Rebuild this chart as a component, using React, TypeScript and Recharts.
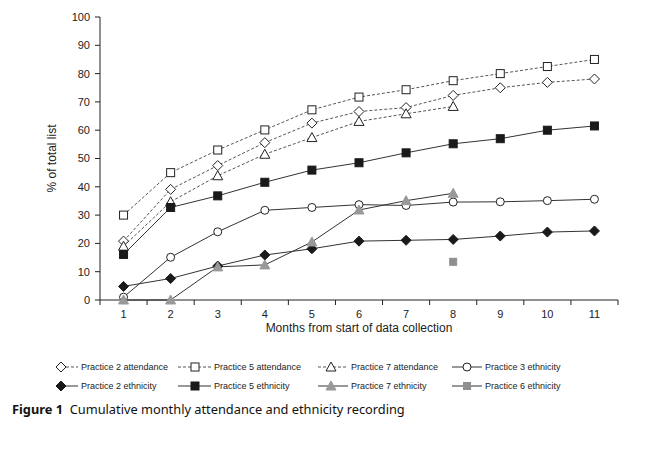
import React from 'react';
import { LineChart, Line, XAxis, YAxis } from 'recharts';

const MONTHS = [1, 2, 3, 4, 5, 6, 7, 8, 9, 10, 11];
const Y_TICKS = [0, 10, 20, 30, 40, 50, 60, 70, 80, 90, 100];

const P2_ATTENDANCE = [20.8, 39.1, 47.5, 55.6, 62.5, 66.6, 68.0, 72.3, 75.0, 76.9, 78.1];
const P5_ATTENDANCE = [30.0, 45.0, 53.0, 60.1, 67.2, 71.7, 74.3, 77.5, 80.0, 82.5, 85.0];
const P7_ATTENDANCE = [19.0, 34.7, 43.9, 51.5, 57.4, 63.1, 65.8, 68.4, null, null, null];
const P3_ETHNICITY = [1.0, 15.1, 24.1, 31.7, 32.7, 33.7, 33.4, 34.6, 34.7, 35.1, 35.6];
const P2_ETHNICITY = [4.8, 7.6, 12.0, 15.9, 18.1, 20.8, 21.1, 21.4, 22.6, 24.0, 24.4];
const P5_ETHNICITY = [16.1, 32.7, 36.8, 41.6, 45.9, 48.5, 52.0, 55.2, 57.0, 60.0, 61.5];
const P7_ETHNICITY = [0, 0, 11.7, 12.4, 20.5, 31.8, 35.1, 37.7, null, null, null];
const P6_ETHNICITY = [null, null, null, null, null, null, null, 13.5, null, null, null];

const SERIES = [
  { key: 'p2att', name: 'Practice 2 attendance', values: P2_ATTENDANCE, shape: 'diamond', dashed: true, fill: '#fff', stroke: '#222', line: '#555', size: 5 },
  { key: 'p5att', name: 'Practice 5 attendance', values: P5_ATTENDANCE, shape: 'square', dashed: true, fill: '#fff', stroke: '#222', line: '#555', size: 4 },
  { key: 'p7att', name: 'Practice 7 attendance', values: P7_ATTENDANCE, shape: 'triangle', dashed: true, fill: '#fff', stroke: '#222', line: '#555', size: 5 },
  { key: 'p3eth', name: 'Practice 3 ethnicity', values: P3_ETHNICITY, shape: 'circle', dashed: false, fill: '#fff', stroke: '#222', line: '#333', size: 4 },
  { key: 'p2eth', name: 'Practice 2 ethnicity', values: P2_ETHNICITY, shape: 'diamond', dashed: false, fill: '#1a1a1a', stroke: '#1a1a1a', line: '#333', size: 5 },
  { key: 'p5eth', name: 'Practice 5 ethnicity', values: P5_ETHNICITY, shape: 'square', dashed: false, fill: '#1a1a1a', stroke: '#1a1a1a', line: '#333', size: 4 },
  { key: 'p7eth', name: 'Practice 7 ethnicity', values: P7_ETHNICITY, shape: 'triangle', dashed: false, fill: '#999', stroke: '#999', line: '#333', size: 5 },
  { key: 'p6eth', name: 'Practice 6 ethnicity', values: P6_ETHNICITY, shape: 'square', dashed: false, fill: '#8f8f8f', stroke: '#8f8f8f', line: '#333', size: 3.5 },
];

const DATA = MONTHS.map((m, i) => {
  const row: any = { month: m };
  SERIES.forEach((s) => { row[s.key] = s.values[i]; });
  return row;
});

const X_TICKS: number[] = [];
MONTHS.forEach((m) => { X_TICKS.push(m - 0.5); X_TICKS.push(m); });
X_TICKS.push(MONTHS[MONTHS.length - 1] + 0.5);

const FONT = 'Liberation Sans, Arial, sans-serif';

function Marker({ shape, cx, cy, s, fill, stroke }: any) {
  if (shape === 'diamond') {
    return <path d={`M${cx},${cy - s}L${cx + s},${cy}L${cx},${cy + s}L${cx - s},${cy}Z`} fill={fill} stroke={stroke} strokeWidth={1} />;
  }
  if (shape === 'square') {
    return <rect x={cx - s} y={cy - s} width={2 * s} height={2 * s} fill={fill} stroke={stroke} strokeWidth={1} />;
  }
  if (shape === 'triangle') {
    return <path d={`M${cx},${cy - s}L${cx + s},${cy + s * 0.8}L${cx - s},${cy + s * 0.8}Z`} fill={fill} stroke={stroke} strokeWidth={1} />;
  }
  return <circle cx={cx} cy={cy} r={s} fill={fill} stroke={stroke} strokeWidth={1} />;
}

const makeDot = (s: any) => (props: any) => {
  const { cx, cy, value, index } = props;
  if (cx == null || cy == null || value == null) return <g key={`${s.key}-${index}`} />;
  return (
    <g key={`${s.key}-${index}`}>
      <Marker shape={s.shape} cx={cx} cy={cy} s={s.size} fill={s.fill} stroke={s.stroke} />
    </g>
  );
};

const XTick = (props: any) => {
  const { x, y, payload } = props;
  const v = payload.value;
  if (Number.isInteger(v)) {
    return (
      <text x={x} y={y + 3} textAnchor="middle" dominantBaseline="hanging" fontSize={11} fill="#222" fontFamily={FONT}>
        {v}
      </text>
    );
  }
  return <line x1={x} x2={x} y1={y - 7} y2={y - 2} stroke="#222" strokeWidth={1} />;
};

const LEGEND_COLS = [
  { start: 61, mk: 61, end: 78, tx: 81 },
  { start: 178, mk: 195, end: 211, tx: 214 },
  { start: 318, mk: 331, end: 348, tx: 351 },
  { start: 452, mk: 467, end: 482, tx: 485 },
];
const LEGEND_ROWS = [12, 31];

function LegendBox() {
  return (
    <svg width={672} height={45} style={{ position: 'absolute', left: 0, top: 355 }}>
      {SERIES.map((s, i) => {
        const c = LEGEND_COLS[i % 4];
        const y = LEGEND_ROWS[Math.floor(i / 4)];
        return (
          <g key={s.key}>
            <line x1={c.start} x2={c.end} y1={y} y2={y} stroke={s.line} strokeWidth={1} strokeDasharray={s.dashed ? '3 2' : undefined} />
            <Marker shape={s.shape} cx={c.mk} cy={y} s={s.size} fill={s.fill} stroke={s.stroke} />
            <text x={c.tx} y={y} dominantBaseline="central" fontSize={9} fill="#222" fontFamily={FONT}>
              {s.name}
            </text>
          </g>
        );
      })}
    </svg>
  );
}

export default function App() {
  return (
    <div style={{ position: 'absolute', left: 0, top: 0, width: 672, height: 452, background: '#fff' }}>
      <LineChart width={672} height={452} data={DATA} margin={{ top: 17, right: 54, bottom: 122, left: 40 }}>
        <XAxis
          dataKey="month"
          type="number"
          domain={[0.5, 11.5]}
          ticks={X_TICKS}
          interval={0}
          tickLine={false}
          tickSize={5}
          tickMargin={2}
          tick={<XTick />}
          height={30}
          axisLine={{ stroke: '#222' }}
          label={{ value: 'Months from start of data collection', position: 'insideBottom', offset: -2, fontSize: 12, fill: '#222', fontFamily: FONT }}
        />
        <YAxis
          type="number"
          domain={[0, 100]}
          ticks={Y_TICKS}
          interval={0}
          width={60}
          tickSize={5}
          tickMargin={5}
          tickLine={{ stroke: '#222' }}
          axisLine={{ stroke: '#222' }}
          tick={{ fontSize: 11, fill: '#222', fontFamily: FONT }}
          label={{ value: '% of total list', angle: -90, position: 'center', dx: -18, fontSize: 12, fill: '#222', fontFamily: FONT }}
        />
        {SERIES.map((s) => (
          <Line
            key={s.key}
            dataKey={s.key}
            name={s.name}
            stroke={s.line}
            strokeWidth={1}
            strokeDasharray={s.dashed ? '3 2' : undefined}
            dot={makeDot(s)}
            activeDot={false}
            isAnimationActive={false}
            connectNulls={false}
          />
        ))}
      </LineChart>
      <LegendBox />
      <div style={{ position: 'absolute', left: 12, top: 400, fontFamily: '"Noto Sans", sans-serif', fontSize: 12.8, color: '#111', whiteSpace: 'nowrap' }}>
        <b>Figure 1</b>&nbsp;&nbsp;Cumulative monthly attendance and ethnicity recording
      </div>
    </div>
  );
}
